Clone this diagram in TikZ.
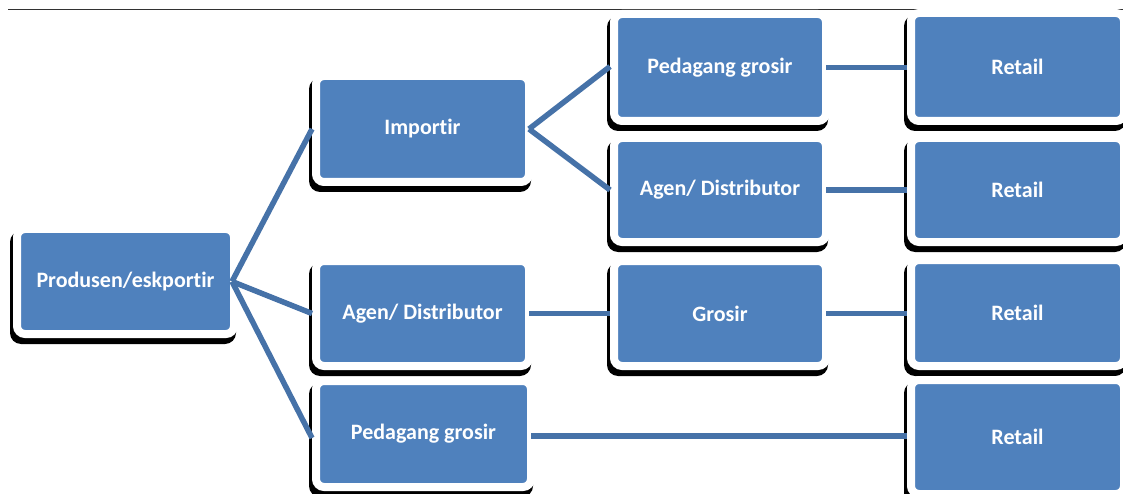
\documentclass[tikz,border=0pt]{standalone}
\usepackage{fontspec}
\setmainfont{Carlito}[Ligatures={NoCommon}]
\definecolor{boxblue}{RGB}{79,129,189}
\definecolor{linec}{RGB}{70,114,168}
\definecolor{rulec}{RGB}{50,50,50}
\tikzset{
  box/.style={fill=boxblue, draw=white, line width=8pt, rounded corners=8pt,
    text=white, inner sep=0pt, font=\bfseries\fontsize{22}{26}\selectfont},
  conn/.style={draw=linec, line width=5.5pt}
}
\newcommand{\bx}[6]{%
  \fill[black, rounded corners=11pt] ({#2-11},{#3-2}) rectangle ({#4+6},{#5+14});
  \node[box, minimum width={(#4-#2+8)*1pt}, minimum height={(#5-#3+8)*1pt}] (#1) at ({(#2+#4)/2},{(#3+#5)/2}) {#6};
}
\begin{document}
\begin{tikzpicture}[x=1pt,y=-1pt]
\useasboundingbox (0,0) rectangle (1123,494);
\draw[rulec, line width=1.2pt] (8,9.5) -- (1123,9.5);
\bx{P}{21}{233}{230}{330}{Produsen/eskportir}
\bx{I}{320}{80}{525}{178}{Importir}
\bx{PGa}{618}{18}{822}{117}{Pedagang grosir}
\bx{ADa}{618}{142}{822}{238}{Agen/ Distributor}
\bx{ADb}{320}{265}{525}{362}{Agen/ Distributor}
\bx{G}{618}{265}{822}{362}{Grosir}
\bx{PGb}{320}{385}{527}{483}{Pedagang grosir}
\bx{Ra}{915}{17}{1120}{117}{Retail}
\bx{Rb}{915}{142}{1120}{238}{Retail}
\bx{Rc}{915}{264}{1120}{362}{Retail}
\bx{Rd}{915}{384}{1120}{490}{Retail}
\draw[conn] ([xshift=-6pt]P.east) -- (I.west);
\draw[conn] ([xshift=-6pt]P.east) -- (ADb.west);
\draw[conn] ([xshift=-6pt]P.east) -- ([yshift=-4pt]PGb.west);
\draw[conn] ([xshift=-4pt]I.east) -- ([yshift=1pt]PGa.west);
\draw[conn] ([xshift=-4pt]I.east) -- (ADa.west);
\draw[conn] ([xshift=-4pt]PGa.east) -- (PGa.east -| Ra.west);
\draw[conn] ([xshift=-4pt]ADa.east) -- (ADa.east -| Rb.west);
\draw[conn] ([xshift=-4pt]ADb.east) -- (ADb.east -| G.west);
\draw[conn] ([xshift=-4pt]G.east) -- (G.east -| Rc.west);
\draw[conn] ([xshift=-4pt,yshift=-2pt]PGb.east) -- ([yshift=-2pt]PGb.east -| Rd.west);
\end{tikzpicture}
\end{document}
